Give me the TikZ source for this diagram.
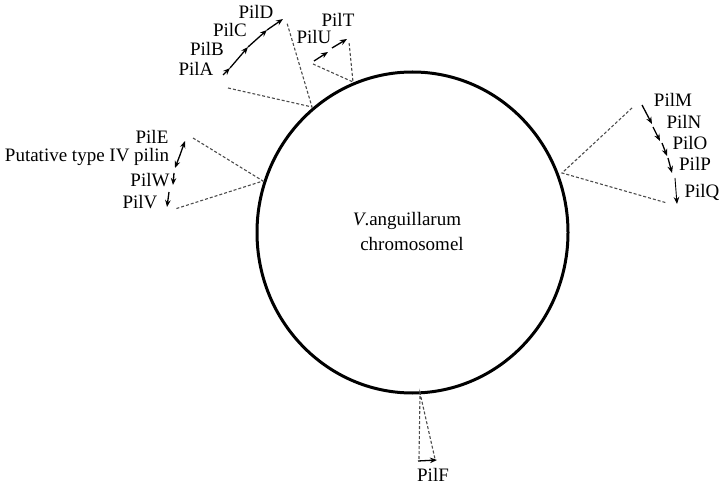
\documentclass[tikz,border=0pt]{standalone}
\usepackage{fontspec}
\setmainfont{Liberation Serif}
\usepackage{tikz}
\usetikzlibrary{arrows.meta, calc}

\begin{document}
\begin{tikzpicture}[
  x=1pt, y=-1pt,
  gene/.style={font=\fontsize{19}{21}\selectfont, inner sep=0pt},
  arr/.style={-{Stealth[length=7pt, width=5.5pt]}, line width=1.3pt},
  link/.style={dashed, dash pattern=on 3pt off 2pt, line width=1.1pt, black!70},
  chrom/.style={line width=3pt},
]
  \useasboundingbox (0,0) rectangle (720,486);
  % chromosome
  \draw[chrom] (412.5,232.5) ellipse [x radius=155.5, y radius=160.5];
  \node[gene] (v1) at (407,221) {\textit{V}.anguillarum};
  \node[gene] (v2) at (412,244) {chromosomel};

  % PilA-D cluster
  \node[gene] (pilA) at (196,69) {PilA};
  \node[gene] (pilB) at (207,49) {PilB};
  \node[gene] (pilC) at (230,30) {PilC};
  \node[gene] (pilD) at (256,12) {PilD};
  \coordinate (a0) at (223,75);
  \coordinate (a1) at (230,68);
  \coordinate (a2) at (248,47);
  \coordinate (a3) at (267,30);
  \coordinate (a4) at (283,19);
  \foreach \s/\t in {a0/a1, a1/a2, a2/a3, a3/a4}
    \draw[arr] (\s) -- (\t);
  \coordinate (jAD) at (312,107);
  \draw[link] (228,88) coordinate (lAD) -- (jAD) -- (287,23) coordinate (rAD);

  % PilU, PilT
  \node[gene] (pilU) at (314,37) {PilU};
  \node[gene] (pilT) at (338,20) {PilT};
  \coordinate (u0) at (314,61);
  \coordinate (u1) at (328,52);
  \coordinate (t0) at (332,48);
  \coordinate (t1) at (347,39);
  \draw[arr] (u0) -- (u1);
  \draw[arr] (t0) -- (t1);
  \coordinate (jUT) at (353,82);
  \draw[link] (313,64) coordinate (lUT) -- (jUT) -- (349,42) coordinate (rUT);

  % PilE, putative pilin, PilW, PilV
  \node[gene] (pilE) at (152,137) {PilE};
  \node[gene] (put) at (87,157) {Putative type IV pilin};
  \node[gene] (pilW) at (150,180) {PilW};
  \node[gene] (pilV) at (140,202) {PilV};
  \coordinate (e0) at (180,155);
  \coordinate (e1) at (185,141);
  \coordinate (p1) at (175,168);
  \draw[arr] (e0) -- (e1);
  \draw[arr] (e0) -- (p1);
  \coordinate (w0) at (174,173);
  \coordinate (w1) at (173,185);
  \coordinate (v0) at (169,192);
  \coordinate (v1a) at (167,207);
  \draw[arr] (w0) -- (w1);
  \draw[arr] (v0) -- (v1a);
  \coordinate (jEV) at (263,181);
  \draw[link] (193,138) coordinate (lEV) -- (jEV) -- (175,209) coordinate (rEV);

  % PilM-Q cluster
  \node[gene] (pilM) at (673,100) {PilM};
  \node[gene] (pilN) at (684,122) {PilN};
  \node[gene] (pilO) at (690,143) {PilO};
  \node[gene] (pilP) at (695,164) {PilP};
  \node[gene] (pilQ) at (702,192) {PilQ};
  \coordinate (m0) at (642,105);
  \coordinate (m1) at (652,124);
  \coordinate (n0) at (653,127);
  \coordinate (n1) at (660,141);
  \coordinate (o0) at (662,143);
  \coordinate (o1) at (667,156);
  \coordinate (q0) at (668,158);
  \coordinate (q1) at (672,173);
  \coordinate (r0) at (675,178);
  \coordinate (r1) at (677,204);
  \foreach \s/\t in {m0/m1, n0/n1, o0/o1, q0/q1}
    \draw[arr] (\s) -- (\t);
  \draw[arr, line width=0.9pt] (r0) -- (r1);
  \coordinate (jMQ) at (562,173);
  \draw[link] (632,108) coordinate (lMQ) -- (jMQ) -- (667,203) coordinate (rMQ);

  % PilF
  \node[gene] (pilF) at (433,475) {PilF};
  \coordinate (f0) at (418,461);
  \coordinate (f1) at (437,460);
  \draw[arr] (f0) -- (f1);
  \coordinate (jF) at (420,393);
  \draw[link] (419,459) coordinate (lF) -- (jF) -- (435,459) coordinate (rF);
\end{tikzpicture}
\end{document}
